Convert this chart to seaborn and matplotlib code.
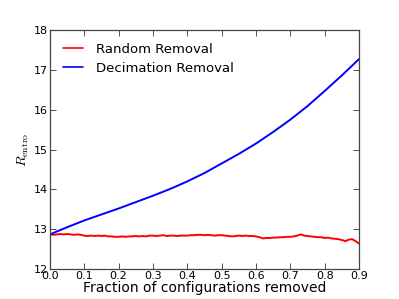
import numpy as np
import pandas as pd
import matplotlib
matplotlib.use('Agg')
import matplotlib.pyplot as plt
import seaborn as sns

# Decimation removal curve
decim_x = [0.00, 0.05, 0.10, 0.15, 0.20, 0.25, 0.30, 0.35, 0.40, 0.45,
           0.50, 0.55, 0.60, 0.65, 0.70, 0.75, 0.80, 0.85, 0.90]
decim_y = [12.87, 13.05, 13.22, 13.37, 13.52, 13.68, 13.84, 14.01, 14.20, 14.41,
           14.65, 14.89, 15.15, 15.44, 15.75, 16.09, 16.47, 16.86, 17.27]

# Random removal curve (noisy, roughly flat), one reading per 0.01
rand_x = [round(0.01 * i, 2) for i in range(91)]
rand_y = [12.87, 12.86, 12.87, 12.88, 12.87, 12.88, 12.87, 12.86, 12.87, 12.86,
          12.84, 12.83, 12.84, 12.83, 12.84, 12.83, 12.84, 12.82, 12.82, 12.81,
          12.81, 12.82, 12.81, 12.82, 12.82, 12.83, 12.82, 12.83, 12.82, 12.84,
          12.84, 12.83, 12.84, 12.85, 12.83, 12.84, 12.84, 12.83, 12.84, 12.84,
          12.84, 12.85, 12.85, 12.86, 12.86, 12.85, 12.86, 12.85, 12.84, 12.85,
          12.85, 12.84, 12.83, 12.82, 12.83, 12.84, 12.83, 12.84, 12.83, 12.83,
          12.82, 12.80, 12.77, 12.78, 12.78, 12.79, 12.79, 12.80, 12.80, 12.81,
          12.81, 12.82, 12.84, 12.87, 12.84, 12.83, 12.82, 12.81, 12.80, 12.80,
          12.78, 12.79, 12.77, 12.76, 12.75, 12.73, 12.70, 12.74, 12.75, 12.70,
          12.64]

series_names = ['Random Removal', 'Decimation Removal']
colors = {'Random Removal': 'red', 'Decimation Removal': 'blue'}
x_ticks = [0.0, 0.1, 0.2, 0.3, 0.4, 0.5, 0.6, 0.7, 0.8, 0.9]
y_ticks = [12, 13, 14, 15, 16, 17, 18]

df = pd.concat([
    pd.DataFrame({'frac': rand_x, 'R': rand_y, 'method': series_names[0]}),
    pd.DataFrame({'frac': decim_x, 'R': decim_y, 'method': series_names[1]}),
], ignore_index=True)

sns.set_style('ticks')
plt.rcParams['font.family'] = ['DejaVu Sans']
plt.rcParams['mathtext.fontset'] = 'cm'
plt.rcParams['text.color'] = 'black'
plt.rcParams['axes.labelcolor'] = 'black'

fig = plt.figure(figsize=(3.99, 2.99), dpi=100)
ax = fig.add_axes([0.125, 0.1, 0.775, 0.8])

sns.lineplot(data=df, x='frac', y='R', hue='method', hue_order=series_names,
             palette=colors, estimator=None, sort=False, linewidth=1.4, ax=ax)

ax.set_xlim(0, 0.9)
ax.set_ylim(12, 18)
ax.set_xticks(x_ticks)
ax.set_xticklabels([f'{t:.1f}' for t in x_ticks])
ax.set_yticks(y_ticks)
ax.tick_params(direction='in', top=True, right=True, length=4, width=0.6,
               labelsize=8, pad=1.5, color='#333333', labelcolor='black')
for sp in ax.spines.values():
    sp.set_linewidth(0.9)
    sp.set_color('#444444')

ax.set_xlabel('Fraction of configurations removed', fontsize=10, labelpad=0)
ax.set_ylabel(r'$R_{\rm entro}$', fontsize=10, labelpad=2)

leg = ax.legend(loc='upper left', frameon=False, fontsize=9.5,
                handlelength=1.5, handletextpad=1.0, labelspacing=0.45,
                borderaxespad=0.6)
for line in leg.get_lines():
    line.set_linewidth(1.2)

fig.savefig('out.png', dpi=100)
